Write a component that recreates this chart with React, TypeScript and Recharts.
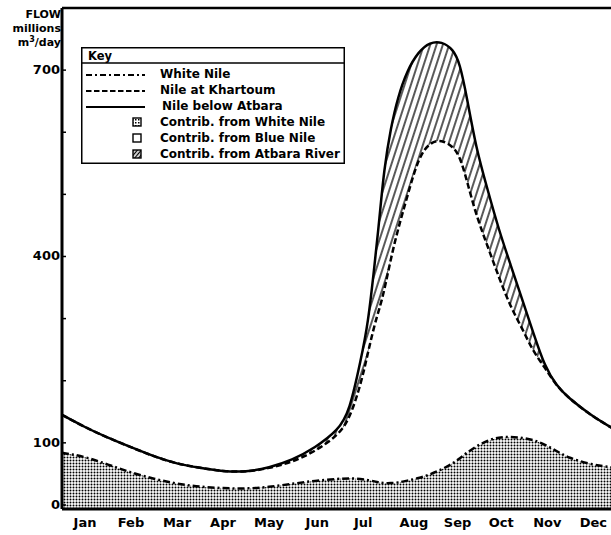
import React from "react";
import { ComposedChart, Area, Line, XAxis, YAxis, ReferenceLine } from "recharts";

// x values in months from 1 January (0) to 31 December (12)
const months = [0, 0.5, 1, 1.5, 2, 2.5, 3, 3.5, 4, 4.5, 5, 5.5, 6, 6.25, 6.5, 6.65, 6.8, 6.9, 7, 7.15, 7.3, 7.5, 7.75, 8, 8.25, 8.5, 8.65, 8.8, 9, 9.25, 9.5, 9.75, 10, 10.25, 10.5, 10.75, 11, 11.5, 12];
// Flow, millions m3/day
const nileBelowAtbara = [145, 125, 108, 93, 78, 66, 60, 54, 53, 60, 72, 92, 120, 150, 235, 290, 390, 460, 540, 608, 656, 699, 730, 745, 746, 734, 711, 657, 575, 508, 442, 387, 332, 276, 222, 192, 173, 144, 122];
const nileAtKhartoum = [145, 125, 108, 93, 78, 66, 60, 54, 53, 59, 69, 86, 112, 138, 195, 245, 292, 316, 343, 397, 443, 495, 560, 584, 588, 577, 561, 523, 467, 417, 366, 319, 285, 246, 221, 192, 173, 144, 122];
const whiteNile = [84, 78, 65, 52, 42, 34, 29, 27, 26, 29, 34, 39, 42, 43, 42, 40, 38, 36, 35, 35, 36, 39, 43, 49, 57, 67, 75, 84, 94, 104, 109, 110, 108, 105, 97, 87, 76, 65, 60];

const monthLabels = ["Jan", "Feb", "Mar", "Apr", "May", "Jun", "Jul", "Aug", "Sep", "Oct", "Nov", "Dec"];
const monthTicks = [0.5, 1.5, 2.5, 3.5, 4.5, 5.55, 6.55, 7.65, 8.6, 9.55, 10.55, 11.55];
const yTicks = [0, 100, 200, 300, 400, 500, 600, 700];
const yLabels = [0, 100, 400, 700];

const legendLines = [
  { label: "White Nile", dash: "6 3 2 3" },
  { label: "Nile at Khartoum", dash: "5.5 2.5" },
  { label: "Nile below Atbara", dash: "" },
];
const legendFills = [
  { label: "Contrib. from White Nile", fill: "url(#kstip)" },
  { label: "Contrib. from Blue Nile", fill: "#fff" },
  { label: "Contrib. from Atbara River", fill: "url(#khatch)" },
];

const FONT = "'DejaVu Sans', 'Liberation Sans', Arial, sans-serif";
const Y_MIN = -6.5;
const CURVE = "basis";

const XTick = (props: any) => {
  const { x, y, payload } = props;
  const i = monthTicks.indexOf(payload.value);
  return (
    <text x={x} y={y + 18} textAnchor="middle" fontFamily={FONT} fontWeight="bold" fontSize={13} fill="#000">
      {monthLabels[i]}
    </text>
  );
};

const YTick = (props: any) => {
  const { x, y, payload } = props;
  const show = yLabels.includes(payload.value);
  return (
    <g>
      <line x1={x} x2={x + 4} y1={y} y2={y} stroke="#000" strokeWidth={1.5} />
      {show && (
        <text x={x - 2} y={y} dy={4} textAnchor="end" fontFamily={FONT} fontWeight="bold" fontSize={13} fill="#000">
          {payload.value}
        </text>
      )}
    </g>
  );
};

export default function App() {
  const data = months.map((m, i) => ({
    m,
    below: nileBelowAtbara[i],
    khart: nileAtKhartoum[i],
    white: whiteNile[i],
    atbara: [nileAtKhartoum[i], nileBelowAtbara[i]],
  }));
  const rowY = [27, 43, 59, 75, 91, 107];
  return (
    <div style={{ position: "absolute", left: 0, top: 0, width: 611, height: 535, overflow: "hidden", background: "#fff" }}>
      <ComposedChart width={620} height={535} data={data} margin={{ top: 8, right: 6, bottom: 0, left: 0 }}>
        <defs>
          <pattern id="stip" width="3" height="3" patternUnits="userSpaceOnUse">
            <rect width="3" height="3" fill="#fff" />
            <circle cx="1.5" cy="1.5" r="1" fill="#000" />
          </pattern>
          <pattern id="hatch" width="6" height="6" patternUnits="userSpaceOnUse" patternTransform="rotate(18)">
            <rect width="6" height="6" fill="#fff" />
            <line x1="3" y1="0" x2="3" y2="6" stroke="#000" strokeWidth="1.3" />
          </pattern>
        </defs>
        <XAxis
          type="number"
          dataKey="m"
          domain={[0, 12]}
          ticks={monthTicks}
          interval={0}
          allowDataOverflow
          height={26}
          tickSize={0}
          tickMargin={0}
          tickLine={false}
          tick={<XTick />}
          axisLine={{ stroke: "#000", strokeWidth: 3 }}
        />
        <YAxis
          type="number"
          domain={[Y_MIN, 800]}
          ticks={yTicks}
          interval={0}
          allowDataOverflow
          width={62}
          tickSize={0}
          tickMargin={0}
          tickLine={false}
          tick={<YTick />}
          axisLine={{ stroke: "#000", strokeWidth: 3 }}
        />
        <Area type={CURVE} dataKey="white" baseValue={Y_MIN} fill="url(#stip)" fillOpacity={1} stroke="none" isAnimationActive={false} />
        <Area type={CURVE} dataKey="atbara" fill="url(#hatch)" fillOpacity={1} stroke="none" isAnimationActive={false} />
        <ReferenceLine y={800} stroke="#000" strokeWidth={2.5} ifOverflow="visible" />
        <Line type={CURVE} dataKey="khart" stroke="#000" strokeWidth={2.5} strokeDasharray="6 3" dot={false} isAnimationActive={false} />
        <Line type={CURVE} dataKey="below" stroke="#000" strokeWidth={2.5} dot={false} isAnimationActive={false} />
        <Line type={CURVE} dataKey="white" stroke="#000" strokeWidth={2.5} strokeDasharray="7 3 2 3" dot={false} isAnimationActive={false} />
      </ComposedChart>
      <svg width={611} height={535} style={{ position: "absolute", left: 0, top: 0, pointerEvents: "none" }}>
        <defs>
          <pattern id="kstip" width="3" height="3" patternUnits="userSpaceOnUse">
            <rect width="3" height="3" fill="#fff" />
            <rect x="0" y="0" width="1.5" height="1.5" fill="#000" />
          </pattern>
          <pattern id="khatch" width="3" height="3" patternUnits="userSpaceOnUse" patternTransform="rotate(40)">
            <rect width="3" height="3" fill="#fff" />
            <line x1="1.5" y1="0" x2="1.5" y2="3" stroke="#000" strokeWidth="1.4" />
          </pattern>
        </defs>
        <g fontFamily={FONT} fontWeight="bold" fill="#000">
          <text x={61} y={18} textAnchor="end" fontSize={11}>FLOW</text>
          <text x={61} y={32} textAnchor="end" fontSize={11}>millions</text>
          <text x={61} y={46} textAnchor="end" fontSize={11}>
            m<tspan fontSize={8} dy={-4}>3</tspan><tspan dy={4}>/day</tspan>
          </text>
        </g>
        <g transform="translate(81,47)">
          <rect x={0.75} y={0.75} width={262.5} height={115.5} fill="#fff" stroke="#000" strokeWidth={1.5} />
          <line x1={0} x2={264} y1={16} y2={16} stroke="#000" strokeWidth={1.5} />
          <text x={7} y={12.5} fontFamily={FONT} fontWeight="bold" fontSize={11.5} fill="#000">Key</text>
          {legendLines.map((l, i) => (
            <g key={l.label}>
              <line x1={5} x2={64} y1={rowY[i] + 1} y2={rowY[i] + 1} stroke="#000" strokeWidth={2.2} strokeDasharray={l.dash || undefined} />
              <text x={i === 2 ? 81 : 79} y={rowY[i]} dy={4.3} fontFamily={FONT} fontWeight="bold" fontSize={12} fill="#000">{l.label}</text>
            </g>
          ))}
          {legendFills.map((f, j) => (
            <g key={f.label}>
              <rect x={52} y={rowY[j + 3] - 4} width={8} height={8} fill={f.fill} stroke="#000" strokeWidth={1.4} />
              <text x={79} y={rowY[j + 3]} dy={4.3} fontFamily={FONT} fontWeight="bold" fontSize={12} fill="#000">{f.label}</text>
            </g>
          ))}
        </g>
      </svg>
    </div>
  );
}
